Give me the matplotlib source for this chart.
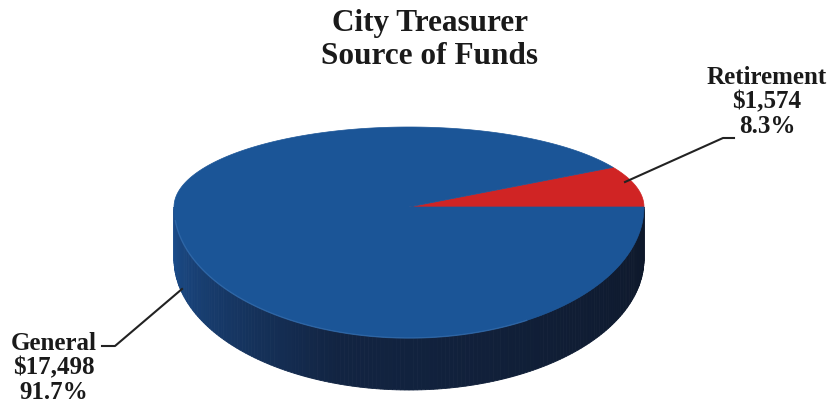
import numpy as np
import matplotlib.pyplot as plt
from matplotlib.patches import Polygon

categories = ["General", "Retirement"]
amounts = [17498, 1574]
title_lines = ["City Treasurer", "Source of Funds"]

top_colors = {"General": "#1b5597", "Retirement": "#d02424"}
side_left = np.array([27, 78, 142]) / 255
side_mid = np.array([18, 36, 66]) / 255
side_right = np.array([14, 24, 42]) / 255

# pie geometry in pixel units; the near half is stretched for perspective
cx, cy = 409, 208
a = 235
b_back, b_front = 80, 131
depth = 52

fig = plt.figure(figsize=(8.29, 4.06), dpi=100)
ax = fig.add_axes([0, 0, 1, 1])
ax.set_xlim(0, 829)
ax.set_ylim(406, 0)
ax.axis("off")

serif = "Liberation Serif"

total = sum(amounts)
shares = [v / total for v in amounts]

# slices: Retirement starts at 3 o'clock and runs counter-clockwise
spans = {}
start = 0.0
for name in ["Retirement", "General"]:
    sweep = 360 * shares[categories.index(name)]
    spans[name] = (start, start + sweep)
    start += sweep


def pt(t, dy=0.0):
    r = np.radians(t)
    s = np.sin(r)
    bb = b_back if s > 0 else b_front
    return cx + a * np.cos(r), cy - bb * s + dy


def slice_of(t):
    t = t % 360
    for name, (s, e) in spans.items():
        if s <= t < e:
            return name
    return categories[0]


# side wall, front half only
steps = np.linspace(180, 360, 181)
for t0, t1 in zip(steps[:-1], steps[1:]):
    f = (t0 - 180) / 180
    if f < 0.4:
        col = side_left + (side_mid - side_left) * (f / 0.4)
    else:
        col = side_mid + (side_right - side_mid) * ((f - 0.4) / 0.6)
    if slice_of((t0 + t1) / 2) == "Retirement":
        col = np.array([150, 20, 20]) / 255
    quad = [pt(t0), pt(t1), pt(t1, depth), pt(t0, depth)]
    ax.add_patch(Polygon(quad, closed=True, facecolor=col, edgecolor=col, lw=0.6))

# top face
for name, (s, e) in spans.items():
    ts = np.linspace(s, e, 300)
    verts = [(cx, cy)] + [pt(t) for t in ts]
    ax.add_patch(Polygon(verts, closed=True, facecolor=top_colors[name],
                         edgecolor=top_colors[name], lw=0.5))

# faint rim highlight along the front edge
ts = np.linspace(186, 300, 200)
rim = np.array([pt(t) for t in ts])
ax.plot(rim[:, 0], rim[:, 1], color="#3f78b8", lw=1.0, alpha=0.5)

# title
ax.text(430, 23, title_lines[0], ha="center", va="center", fontsize=22.5,
        fontweight="bold", family=serif, color="#1a1a1a")
ax.text(430, 56, title_lines[1], ha="center", va="center", fontsize=22.5,
        fontweight="bold", family=serif, color="#1a1a1a")


def label_text(name):
    v = amounts[categories.index(name)]
    return f"{name}\n${v:,}\n{100 * v / total:.1f}%"


# Retirement label and leader
ax.text(767, 102, label_text("Retirement"), ha="center", va="center",
        fontsize=18, fontweight="bold", family=serif, linespacing=1.1,
        color="#1a1a1a")
ax.plot([625, 723, 734], [183, 139, 139], color="#222222", lw=1.5)

# General label and leader
ax.text(54, 368, label_text("General"), ha="center", va="center",
        fontsize=18, fontweight="bold", family=serif, linespacing=1.1,
        color="#1a1a1a")
ax.plot([102, 115, 182], [347, 347, 290], color="#222222", lw=1.5)

fig.savefig("out.png", dpi=100)
